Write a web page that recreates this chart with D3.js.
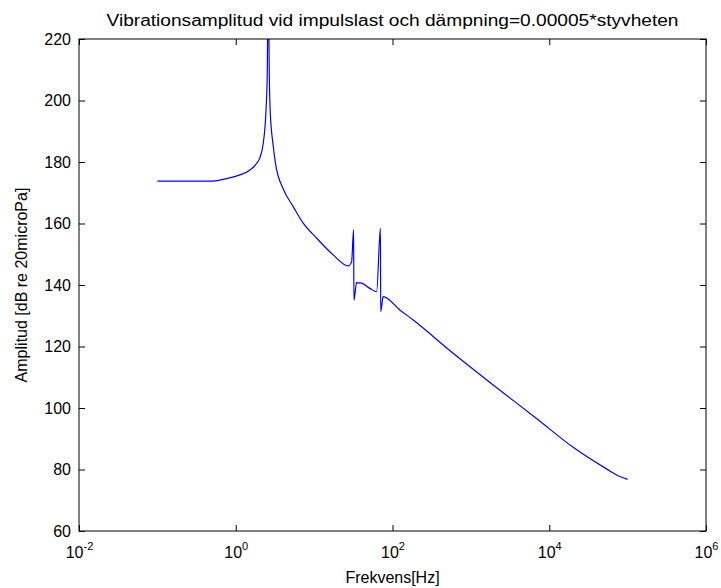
<!DOCTYPE html>
<html>
<head>
<meta charset="utf-8">
<script src="https://cdn.jsdelivr.net/npm/d3@7"></script>
<style>
  body { margin: 0; background: #fff; }
  text { font-family: "Liberation Sans", Arial, sans-serif; fill: #000; }
</style>
</head>
<body>
<svg id="chart" width="721" height="588"></svg>
<script>
// data (frequency in Hz, amplitude in dB)
var freq = [0.1, 0.51, 0.77, 1.13, 1.52, 1.85, 2.04, 2.24, 2.43, 2.52, 2.6,
  2.68, 2.76, 3.01, 3.23, 4.04, 5.41, 7.26, 10.8, 17.5, 27.2, 30.1,
  31.9, 32.2, 34.8, 40.4, 51.5, 62.7, 70.2, 70.7, 76.0, 124, 184, 594,
  1923, 6880, 20200, 53800, 79600, 100000];
var amp = [173.8, 173.8, 174.6, 175.8, 177.4, 179.6, 181.5, 186, 196.6, 208, 240,
  208, 196, 185.2, 179.2, 171.2, 165.5, 160.1, 155.2, 149.8, 146.2, 147.6,
  158, 135, 140.8, 140.6, 138.9, 137.8, 158.5, 131.3, 136.2, 131.9, 128.6, 117.8,
  107.5, 96.6, 87.2, 80.2, 77.7, 76.8];

var xTicks = [1e-2, 1e0, 1e2, 1e4, 1e6];
var xExps = ["-2", "0", "2", "4", "6"];
var yTicks = [60, 80, 100, 120, 140, 160, 180, 200, 220];

var titleText = "Vibrationsamplitud vid impulslast och dämpning=0.00005*styvheten";
var xLabel = "Frekvens[Hz]";
var yLabel = "Amplitud [dB re 20microPa]";

var svg = d3.select("#chart");
var pLeft = 79, pRight = 706, pTop = 39, pBottom = 531;

var x = d3.scaleLog().domain([1e-2, 1e6]).range([pLeft, pRight]);
var y = d3.scaleLinear().domain([60, 220]).range([pBottom, pTop]);

// clip the curve to the axes box
svg.append("clipPath").attr("id", "clip")
  .append("rect")
  .attr("x", pLeft).attr("y", pTop)
  .attr("width", pRight - pLeft).attr("height", pBottom - pTop);

var line = d3.line()
  .curve(d3.curveMonotoneX)
  .x(function(d, i) { return x(freq[i]); })
  .y(function(d, i) { return y(amp[i]); });

svg.append("path")
  .datum(freq)
  .attr("clip-path", "url(#clip)")
  .attr("d", line)
  .attr("fill", "none")
  .attr("stroke", "#0000ff")
  .attr("stroke-width", 1.2);

// axes, ticks point inwards like matlab
var gx = svg.append("g")
  .attr("transform", "translate(0," + pBottom + ")")
  .call(d3.axisBottom(x).tickValues(xTicks).tickFormat("")
    .tickSizeInner(-6).tickSizeOuter(0));

gx.selectAll(".tick").append("text")
  .attr("y", 27)
  .attr("text-anchor", "middle")
  .style("font-size", "16px")
  .each(function(d, i) {
    var t = d3.select(this);
    t.append("tspan").text("10");
    t.append("tspan").attr("dy", -8).style("font-size", "11px").text(xExps[i]);
  });

svg.append("g")
  .attr("transform", "translate(0," + pTop + ")")
  .call(d3.axisTop(x).tickValues(xTicks).tickFormat("")
    .tickSizeInner(-6).tickSizeOuter(0));

svg.append("g")
  .attr("transform", "translate(" + pLeft + ",0)")
  .call(d3.axisLeft(y).tickValues(yTicks)
    .tickSizeInner(-6).tickSizeOuter(0).tickPadding(8))
  .selectAll("text").style("font-size", "16px");

svg.append("g")
  .attr("transform", "translate(" + pRight + ",0)")
  .call(d3.axisRight(y).tickValues(yTicks).tickFormat("")
    .tickSizeInner(-6).tickSizeOuter(0));

svg.selectAll(".domain").remove();
svg.selectAll(".tick line").attr("stroke", "#000");

svg.append("rect")
  .attr("x", pLeft).attr("y", pTop)
  .attr("width", pRight - pLeft).attr("height", pBottom - pTop)
  .attr("fill", "none").attr("stroke", "#000").attr("stroke-width", 1);

// labels
svg.append("text")
  .attr("x", (pLeft + pRight) / 2).attr("y", 26)
  .attr("text-anchor", "middle")
  .attr("textLength", 572).attr("lengthAdjust", "spacingAndGlyphs")
  .style("font-size", "16px")
  .text(titleText);

svg.append("text")
  .attr("x", (pLeft + pRight) / 2).attr("y", 583)
  .attr("text-anchor", "middle")
  .style("font-size", "16px")
  .text(xLabel);

svg.append("text")
  .attr("transform", "translate(27," + (pTop + pBottom) / 2 + ") rotate(-90)")
  .attr("text-anchor", "middle")
  .style("font-size", "16px")
  .text(yLabel);
</script>
</body>
</html>
